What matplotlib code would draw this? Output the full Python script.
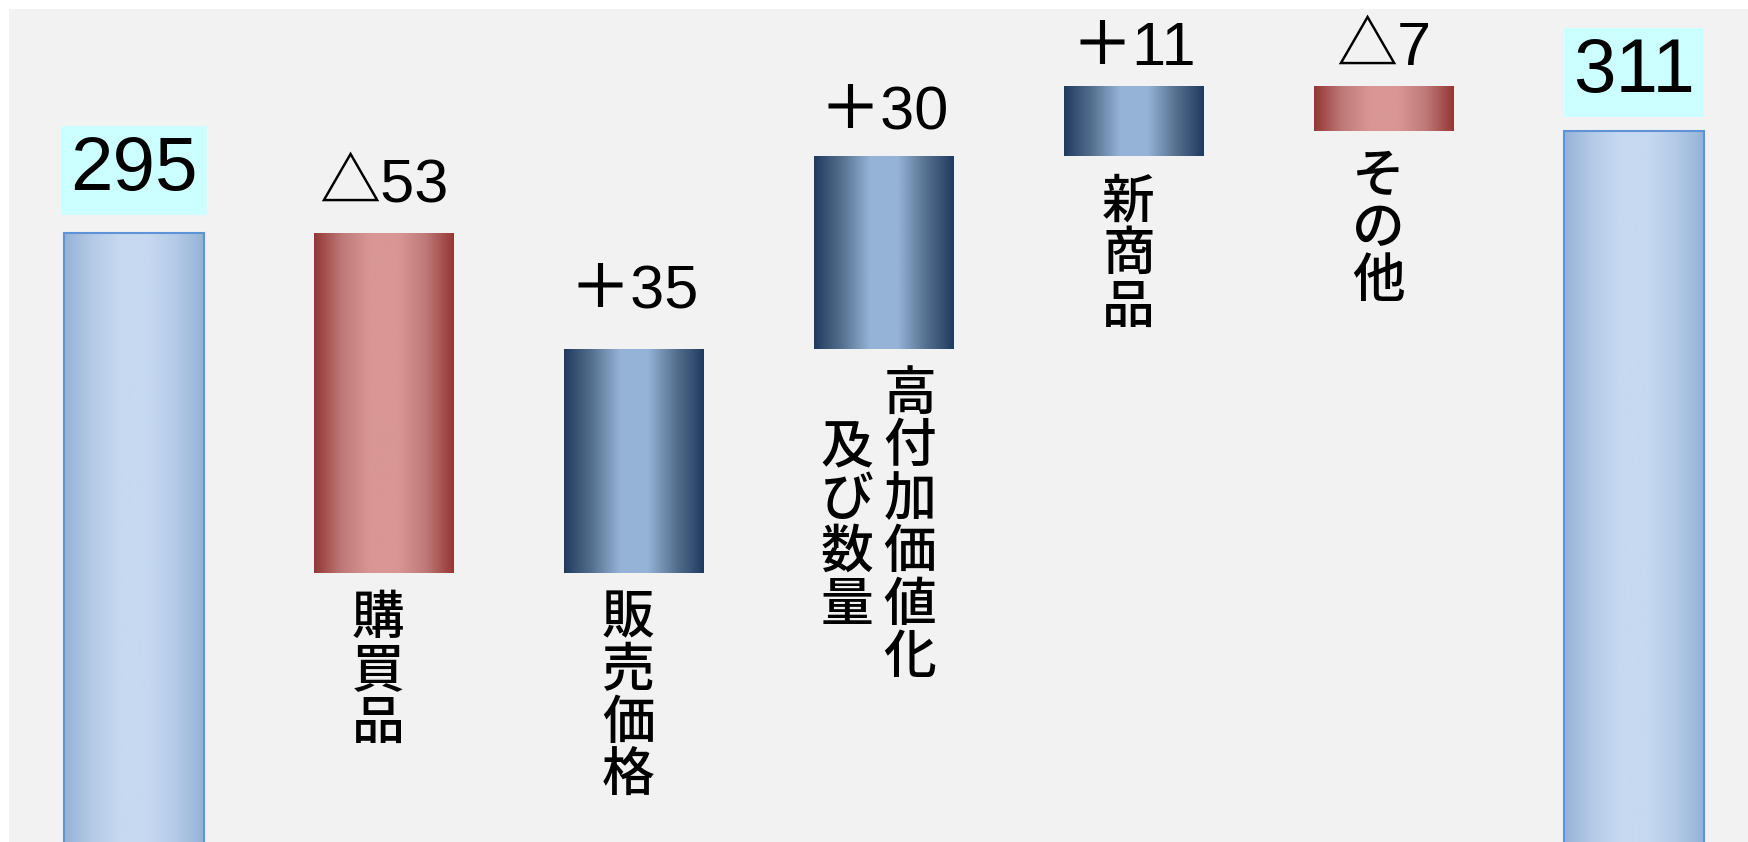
import numpy as np
import matplotlib
matplotlib.use("Agg")
import matplotlib.pyplot as plt
from matplotlib.colors import LinearSegmentedColormap

# waterfall data (億円)
start_value = 295
end_value = 311
changes = [-53, 35, 30, 11, -7]
categories = ["", "購買品", "販売価格", "高付加価値化\n　及び数量", "新商品", "その他", ""]

# gradients like the original slide
cmap_total = LinearSegmentedColormap.from_list(
    "total", ["#95B3D7", "#B4CAE6", "#C6D9F0", "#C6D9F0", "#B4CAE6", "#95B3D7"])
cmap_up = LinearSegmentedColormap.from_list(
    "up", ["#1F3A5F", "#56718F", "#95B3D7", "#95B3D7", "#56718F", "#1F3A5F"])
cmap_down = LinearSegmentedColormap.from_list(
    "down", ["#953735", "#BF7A78", "#D99694", "#D99694", "#BF7A78", "#953735"])

# build bars
bottoms = [0]
heights = [start_value]
level = start_value
for c in changes:
    if c >= 0:
        bottoms.append(level)
        heights.append(c)
    else:
        bottoms.append(level + c)
        heights.append(-c)
    level += c
bottoms.append(0)
heights.append(end_value)

kinds = ["total"] + ["up" if c >= 0 else "down" for c in changes] + ["total"]
labels = [str(start_value)] + [("＋%d" % c) if c >= 0 else ("△%d" % -c) for c in changes] + [str(end_value)]
label_gap = [31, 23, 29.5, 20, 15, 15, 28]   # points above bar top

fig = plt.figure(figsize=(17.48, 8.42), dpi=100, facecolor="white")
ax = fig.add_axes([9 / 1748, 0, 1739 / 1748, 833 / 842])
ax.set_facecolor("#F2F2F2")

x = np.arange(len(heights))
edgecolors = ["#5F93D7" if k == "total" else "none" for k in kinds]
linewidths = [1.5 if k == "total" else 0 for k in kinds]
bars = ax.bar(x, heights, bottom=bottoms, width=0.56, color="none",
              edgecolor=edgecolors, linewidth=linewidths, zorder=3)

grad = np.linspace(0, 1, 256).reshape(1, -1)
cmaps = {"total": cmap_total, "up": cmap_up, "down": cmap_down}
for bar, kind in zip(bars, kinds):
    x0, y0 = bar.get_x(), bar.get_y()
    w, h = bar.get_width(), bar.get_height()
    im = ax.imshow(grad, extent=[x0, x0 + w, y0, y0 + h], aspect="auto",
                   cmap=cmaps[kind], interpolation="bicubic", zorder=2)
    im.set_clip_path(bar)

value_font = ["Liberation Sans", "Noto Sans CJK JP"]
for i, bar in enumerate(bars):
    top = bar.get_y() + bar.get_height()
    xc = bar.get_x() + bar.get_width() / 2
    if kinds[i] == "total":
        ax.annotate(labels[i], xy=(xc, top), xytext=(0, label_gap[i]),
                    textcoords="offset points", ha="center", va="baseline",
                    fontsize=55, family=value_font, zorder=5,
                    bbox=dict(boxstyle="square,pad=0.12", fc="#CCFFFF", ec="none"))
    else:
        ax.annotate(labels[i], xy=(xc, top), xytext=(0, label_gap[i]),
                    textcoords="offset points", ha="center", va="baseline",
                    fontsize=44, fontweight="medium", family=value_font, zorder=5)

# vertical (tategaki) category labels below each change bar
pitch = 38
col_pitch = 45
first = 33
for i, bar in enumerate(bars):
    if not categories[i]:
        continue
    xc = bar.get_x() + bar.get_width() / 2
    cols = categories[i].split("\n")
    n = len(cols)
    for j, col in enumerate(cols):
        dx = ((n - 1) / 2 - j) * col_pitch - 4
        for k, ch in enumerate(col):
            if ch == "　":
                continue
            ax.annotate(ch, xy=(xc, bar.get_y()), xytext=(dx, -(first + k * pitch)),
                        textcoords="offset points", ha="center", va="center",
                        fontsize=38, fontweight="medium",
                        family=["Noto Sans CJK JP", "DejaVu Sans"], zorder=5)

ax.set_xlim(-0.5, 6.456)
ax.set_ylim(200, 330)
ax.set_xticks([])
ax.set_yticks([])
for s in ax.spines.values():
    s.set_visible(False)

fig.savefig("out.png", dpi=100, facecolor="white")
